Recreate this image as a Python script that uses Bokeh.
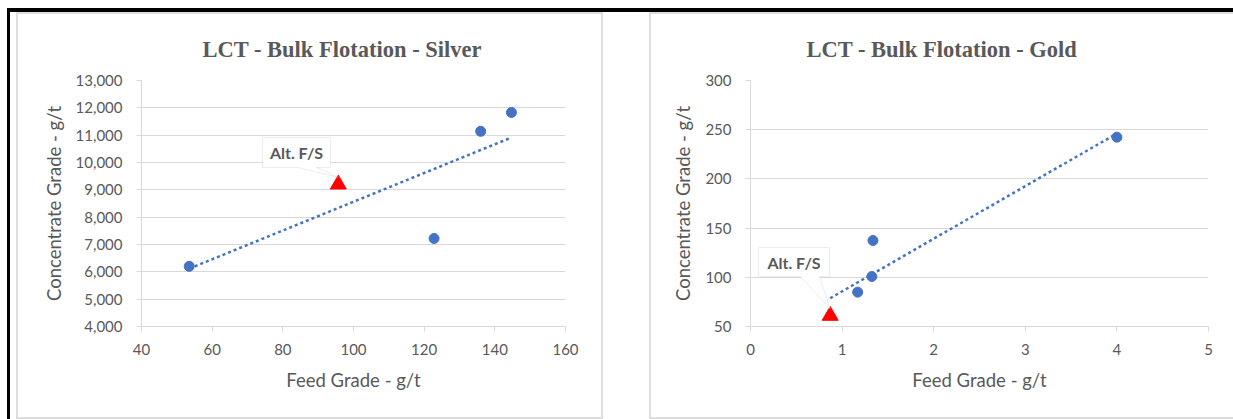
import numpy as np
from bokeh.plotting import figure
from bokeh.models import (Range1d, FixedTicker, NumeralTickFormatter, Label,
                          PolyAnnotation, Spacer)
from bokeh.layouts import row, column
from bokeh.embed import file_html
from bokeh.resources import INLINE

# ---------------- data ----------------
silver_title = "LCT - Bulk Flotation - Silver"
silver_feed = [53.5, 122.8, 136.0, 144.7]
silver_conc = [6200, 7220, 11140, 11830]
silver_alt_feed = [95.7]
silver_alt_conc = [9200]
silver_xticks = [40, 60, 80, 100, 120, 140, 160]
silver_yticks = [4000, 5000, 6000, 7000, 8000, 9000, 10000, 11000, 12000, 13000]

gold_title = "LCT - Bulk Flotation - Gold"
gold_feed = [1.17, 1.325, 1.337, 4.00]
gold_conc = [84.9, 100.8, 137.4, 242.4]
gold_alt_feed = [0.87]
gold_alt_conc = [61]
gold_xticks = [0, 1, 2, 3, 4, 5]
gold_yticks = [50, 100, 150, 200, 250, 300]

alt_label = "Alt. F/S"
x_label = "Feed Grade - g/t"
y_label = "Concentrate Grade - g/t"

# ---------------- style / layout ----------------
TXT = "#595959"
GRID = "#d9d9d9"
PANEL = "#dedede"
BLUE = "#4472C4"
FONT = "Lato"
FIG_H = 403
FIG_TOP = 14          # page y of chart figures
FRAME_TOP = 80        # page y of plot frame top
FRAME_BOT = 326       # page y of plot frame bottom


def block(w, h, color=None):
    if color is None:
        return Spacer(width=w, height=h)
    return Spacer(width=w, height=h, styles={"background-color": color})


def make_chart(title, xs, ys, axs, ays, xticks, yticks, yfmt,
               fig_x, fig_w, frame_l, frame_r, title_left, box, ptr_x):
    frame_w = frame_r - frame_l
    frame_h = FRAME_BOT - FRAME_TOP
    p = figure(width=fig_w, height=FIG_H,
               x_range=Range1d(xticks[0], xticks[-1]),
               y_range=Range1d(yticks[0], yticks[-1]),
               output_backend="svg", toolbar_location=None,
               min_border_left=frame_l - fig_x,
               min_border_right=fig_x + fig_w - frame_r,
               min_border_top=FRAME_TOP - FIG_TOP,
               min_border_bottom=FIG_TOP + FIG_H - FRAME_BOT)
    p.outline_line_color = None
    p.background_fill_color = "white"
    p.border_fill_color = "white"

    # title
    p.title.text = title
    p.title.align = "left"
    p.title.offset = title_left - frame_l
    p.title.text_font = "Liberation Serif"
    p.title.text_font_style = "bold"
    p.title.text_font_size = "22.5px"
    p.title.text_color = TXT
    p.title.standoff = 38

    # axes
    p.xaxis.ticker = FixedTicker(ticks=xticks)
    p.yaxis.ticker = FixedTicker(ticks=yticks)
    if yfmt:
        p.yaxis.formatter = NumeralTickFormatter(format=yfmt)
    for ax in (p.xaxis[0], p.yaxis[0]):
        ax.axis_line_color = GRID
        ax.major_tick_line_color = GRID
        ax.minor_tick_line_color = None
        ax.major_tick_in = 0
        ax.major_tick_out = 5
        ax.major_label_text_color = TXT
        ax.major_label_text_font = FONT
        ax.major_label_text_font_size = "15px"
        ax.axis_label_text_color = TXT
        ax.axis_label_text_font = FONT
        ax.axis_label_text_font_size = "18.5px"
        ax.axis_label_text_font_style = "normal"
    p.xaxis.axis_label = x_label
    p.yaxis.axis_label = y_label
    p.xaxis.major_label_standoff = 12
    p.yaxis.major_label_standoff = 14
    p.xaxis.axis_label_standoff = 11
    p.yaxis.axis_label_standoff = 8
    p.xgrid.visible = False
    p.ygrid.grid_line_color = GRID
    p.ygrid.ticker = FixedTicker(ticks=yticks)

    # trendline (linear fit of all points)
    allx = np.array(list(xs) + list(axs))
    ally = np.array(list(ys) + list(ays))
    k, b = np.polyfit(allx, ally, 1)
    tx = [allx.min(), allx.max()]
    ty = [k * v + b for v in tx]
    p.line(tx, ty, line_color=BLUE, line_width=2.5, line_dash="3 3")

    p.scatter(xs, ys, size=10, color=BLUE)
    p.scatter(axs, ays, marker="triangle", size=16, color="#FF0000")

    # callout (screen units, relative to the frame's bottom-left corner)
    def sx(px):
        return px - frame_l

    def sy(py):
        return FRAME_BOT - py

    x0, x1 = xticks[0], xticks[-1]
    y0, y1 = yticks[0], yticks[-1]
    tip_x = (axs[0] - x0) / (x1 - x0) * frame_w
    tip_y = (ays[0] - y0) / (y1 - y0) * frame_h + 7
    L, T, R, B = box
    pxs = [sx(L), sx(R), sx(R), sx(ptr_x[1]), tip_x, sx(ptr_x[0]), sx(L)]
    pys = [sy(T), sy(T), sy(B), sy(B), tip_y, sy(B), sy(B)]
    p.add_layout(PolyAnnotation(xs=pxs, ys=pys, xs_units="screen", ys_units="screen",
                                fill_color="white", fill_alpha=1,
                                line_color="#bfbfbf", line_width=1))
    p.add_layout(Label(x=sx((L + R) / 2), y=sy((T + B) / 2), x_units="screen", y_units="screen",
                       text=alt_label, text_align="center", text_baseline="middle",
                       text_font=FONT, text_font_style="bold", text_font_size="16px",
                       text_color=TXT))
    return p


left = make_chart(silver_title, silver_feed, silver_conc, silver_alt_feed, silver_alt_conc,
                  silver_xticks, silver_yticks, "0,0",
                  18, 583, 141, 565, 202, (262, 137, 330, 167), (297, 316))
right = make_chart(gold_title, gold_feed, gold_conc, gold_alt_feed, gold_alt_conc,
                   gold_xticks, gold_yticks, None,
                   651, 582, 750, 1208, 806, (758, 247, 829, 276), (800, 819))

left_panel = column(block(587, 2, PANEL),
                    row(block(2, FIG_H, PANEL), left, block(2, FIG_H, PANEL)),
                    block(587, 2, PANEL))
right_panel = column(block(584, 2, PANEL),
                     row(block(2, FIG_H, PANEL), right),
                     block(584, 2, PANEL))

layout = column(
    block(1233, 8),
    row(block(7, 4), block(1226, 4, "black")),
    row(block(7, 407), block(3, 407, "black"), block(6, 407),
        left_panel, block(46, 407), right_panel),
)
open("out.html", "w").write(file_html(layout, INLINE))
